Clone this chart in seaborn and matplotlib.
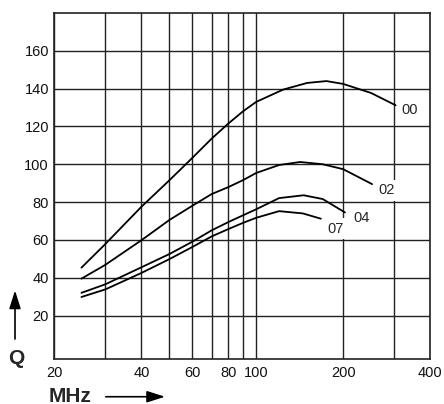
import matplotlib
matplotlib.use("Agg")
import matplotlib.pyplot as plt
from matplotlib.patches import FancyArrowPatch
import pandas as pd
import seaborn as sns

# values (MHz, Q)
mhz_00 = [24.8, 30, 40, 50, 60, 70, 80, 90, 100, 124, 150, 175, 200, 250, 304]
q_00 = [45.3, 57.8, 77.5, 91.5, 103.3, 113.5, 121.5, 128, 133, 139.5, 143, 144, 142.5, 137.7, 131.2]

mhz_02 = [24.8, 30, 40, 50, 60, 70, 80, 90, 100, 120, 142, 170, 200, 252]
q_02 = [39.5, 46.8, 59.8, 70.5, 78, 84.2, 87.9, 91.6, 95.4, 99.6, 101.2, 100, 97.4, 89.5]

mhz_04 = [24.8, 30, 40, 50, 60, 70, 80, 90, 100, 120, 146, 170, 203]
q_04 = [32, 36.5, 45.5, 52.5, 59, 65, 69.4, 73, 76.2, 82.1, 83.6, 81.6, 74.5]

mhz_07 = [24.8, 30, 40, 50, 60, 70, 80, 90, 100, 120, 145, 167.5]
q_07 = [29.8, 33.8, 42.5, 49.8, 56.2, 61.8, 65.7, 69, 71.7, 75.2, 74, 71.2]

curve_names = ["00", "02", "04", "07"]
label_pos = {"00": (340, 128.8), "02": (283.5, 86.3), "04": (232, 71.4), "07": (187.6, 65.8)}

x_major = [20, 40, 60, 80, 100, 200, 400]
x_minor = [30, 50, 70, 90, 300]
y_ticks = [20, 40, 60, 80, 100, 120, 140, 160]

sns.set_style("white")
plt.rcParams["font.family"] = ["Liberation Sans", "DejaVu Sans"]

fig = plt.figure(figsize=(4.44, 4.04), dpi=100)
ax = fig.add_axes([0.1227, 0.1114, 0.8458, 0.8564])

data = {"00": (mhz_00, q_00), "02": (mhz_02, q_02), "04": (mhz_04, q_04), "07": (mhz_07, q_07)}
for name in curve_names:
    xs, ys = data[name]
    df = pd.DataFrame({"MHz": xs, "Q": ys})
    sns.lineplot(data=df, x="MHz", y="Q", color="black", linewidth=1.3,
                 estimator=None, sort=False, ax=ax, zorder=3)

ax.set_xscale("log")
ax.set_xlim(20, 400)
ax.set_ylim(-3, 180)
ax.set_xticks(x_major)
ax.set_xticklabels([str(v) for v in x_major])
ax.set_xticks(x_minor, minor=True)
ax.set_xticklabels([], minor=True)
ax.set_yticks(y_ticks)
ax.set_yticklabels([str(v) for v in y_ticks])
ax.tick_params(axis="both", which="both", length=0, labelsize=10.5, colors="#111111")
ax.tick_params(axis="x", pad=5)
ax.tick_params(axis="y", pad=4)
ax.grid(True, which="both", color="#222222", linewidth=1.0)
ax.set_axisbelow(True)
for sp in ax.spines.values():
    sp.set_color("#222222")
    sp.set_linewidth(1.2)
ax.set_xlabel("")
ax.set_ylabel("")

for name in curve_names:
    lx, ly = label_pos[name]
    ax.text(lx, ly, name, fontsize=10.5, ha="center", va="center", zorder=4,
            bbox=dict(facecolor="white", edgecolor="none", pad=2.5))

# axis captions with arrows
fig.text(0.0376, 0.113, "Q", fontsize=15, fontweight="bold", ha="center", va="center")
fig.text(0.158, 0.0198, "MHz", fontsize=15, fontweight="bold", ha="center", va="center")
fig.add_artist(FancyArrowPatch(
    (0.0338, 0.154), (0.0338, 0.288), transform=fig.transFigure,
    arrowstyle="-|>,head_length=11,head_width=3.5", color="black", linewidth=1.2))
fig.add_artist(FancyArrowPatch(
    (0.232, 0.018), (0.378, 0.018), transform=fig.transFigure,
    arrowstyle="-|>,head_length=11,head_width=3.5", color="black", linewidth=1.2))

fig.savefig("out.png", dpi=100)
